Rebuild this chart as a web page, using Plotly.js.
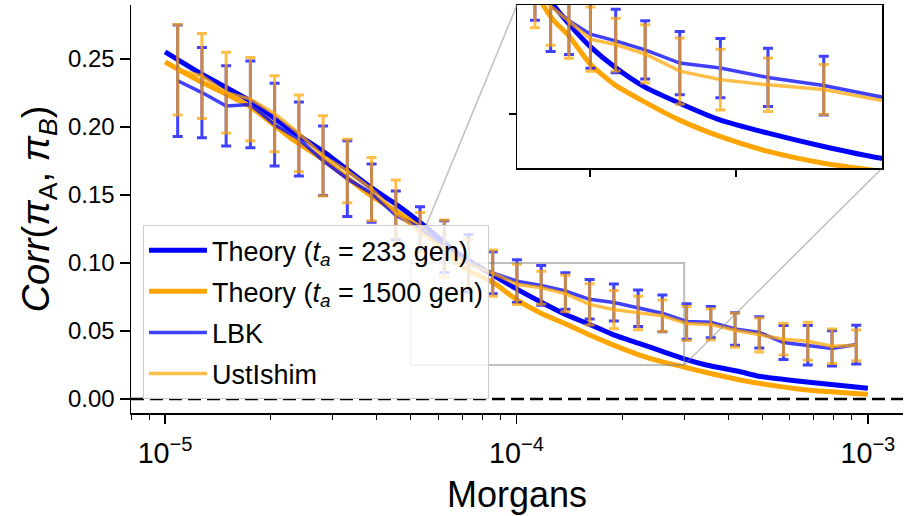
<!DOCTYPE html>
<html>
<head>
<meta charset="utf-8">
<script src="https://cdn.plot.ly/plotly-3.0.1.min.js"></script>
<style>html,body{margin:0;padding:0;background:#fff;}#chart{width:904px;height:516px;}</style>
</head>
<body>
<div id="chart"></div>
<script>
// Bin centres (Morgans)
const binX = [1.086e-5, 1.273e-5, 1.492e-5, 1.749e-5, 2.050e-5, 2.403e-5, 2.816e-5, 3.301e-5, 3.869e-5, 4.535e-5,
  5.315e-5, 6.230e-5, 7.302e-5, 8.559e-5, 1.003e-4, 1.176e-4, 1.378e-4, 1.615e-4, 1.893e-4, 2.219e-4,
  2.601e-4, 3.049e-4, 3.573e-4, 4.189e-4, 4.909e-4, 5.754e-4, 6.745e-4, 7.905e-4, 9.266e-4];
const lbkY = [0.234, 0.2253, 0.2155, 0.2166, 0.2017, 0.1911, 0.1752, 0.162, 0.1513, 0.135,
  0.1257, 0.112, 0.0998, 0.0928, 0.0866, 0.0835, 0.0794, 0.0733, 0.0710, 0.0667,
  0.0630, 0.0570, 0.0565, 0.0515, 0.049, 0.0415, 0.0395, 0.0372, 0.0400];
const lbkErr = [0.041, 0.0332, 0.0295, 0.0319, 0.0304, 0.0272, 0.0255, 0.0278, 0.0214, 0.018,
  0.0156, 0.019, 0.0212, 0.0155, 0.0157, 0.0146, 0.0134, 0.0145, 0.0136, 0.0134,
  0.0135, 0.013, 0.0115, 0.012, 0.0115, 0.0125, 0.0145, 0.013, 0.0143];
const ustY = [0.2421, 0.2375, 0.2252, 0.2205, 0.2097, 0.1953, 0.1787, 0.1676, 0.1543, 0.137,
  0.1225, 0.1106, 0.0995, 0.0925, 0.0843, 0.0818, 0.0775, 0.0696, 0.0657, 0.0633,
  0.0612, 0.0555, 0.0548, 0.0505, 0.047, 0.0440, 0.0425, 0.0388, 0.0395];
const ustErr = [0.0333, 0.0312, 0.0297, 0.0306, 0.0279, 0.0282, 0.0295, 0.0233, 0.0233, 0.024,
  0.0147, 0.021, 0.018, 0.017, 0.0148, 0.0121, 0.0134, 0.0152, 0.0140, 0.0123,
  0.0115, 0.0125, 0.0115, 0.0125, 0.0125, 0.0117, 0.014, 0.0127, 0.0113];
// Theory curves
const thX = [1e-5, 1.27e-5, 1.75e-5, 2.3e-5, 2.82e-5, 3.83e-5, 4.67e-5, 5.43e-5, 6.8e-5, 7.5e-5, 8.6e-5, 1e-4,
  1.17e-4, 1.37e-4, 1.61e-4, 1.89e-4, 2.22e-4, 2.6e-4, 3e-4, 3.47e-4, 4.33e-4, 4.9e-4, 6.6e-4, 1e-3];
const th233 = [0.2553, 0.239, 0.219, 0.197, 0.182, 0.156, 0.141, 0.128, 0.107, 0.100, 0.091, 0.081,
  0.0715, 0.0625, 0.055, 0.0472, 0.0411, 0.035, 0.0295, 0.025, 0.020, 0.0167, 0.0127, 0.0079];
const th1500 = [0.2478, 0.233, 0.2148, 0.191, 0.176, 0.150, 0.136, 0.124, 0.100, 0.093, 0.0855, 0.073,
  0.0633, 0.0556, 0.0472, 0.0396, 0.0327, 0.0273, 0.0235, 0.0195, 0.014, 0.0115, 0.0068, 0.0035];
const names = ['Theory (<i>t<sub>a</sub></i> = 233 gen)', 'Theory (<i>t<sub>a</sub></i> = 1500 gen)', 'LBK', 'UstIshim'];
const zoomX = [5e-5, 3e-4];
const zoomY = [0.025, 0.10];
const insetXTicks = [1e-4, 2e-4];
const insetYTicks = [0.05];

const BLUE = 'rgb(0,0,255)', ORANGE = 'rgb(255,165,0)';
const BLUE_A = 'rgba(0,0,255,0.75)', ORANGE_A = 'rgba(255,165,0,0.72)';

function traces(xa, ya, legend) {
  return [
    {x: thX, y: th233, mode: 'lines', line: {color: BLUE, width: 5, shape: 'spline', smoothing: 0.6}, name: names[0], legendgroup: 'a', showlegend: legend, xaxis: xa, yaxis: ya},
    {x: thX, y: th1500, mode: 'lines', line: {color: ORANGE, width: 5, shape: 'spline', smoothing: 0.6}, name: names[1], legendgroup: 'b', showlegend: legend, xaxis: xa, yaxis: ya},
    {x: binX, y: lbkY, mode: 'lines', line: {color: BLUE_A, width: 3.5}, name: names[2], legendgroup: 'c', showlegend: legend, xaxis: xa, yaxis: ya,
      error_y: {type: 'data', array: lbkErr, visible: true, color: BLUE_A, thickness: 3, width: 5}},
    {x: binX, y: ustY, mode: 'lines', line: {color: ORANGE_A, width: 3.5}, name: names[3], legendgroup: 'd', showlegend: legend, xaxis: xa, yaxis: ya,
      error_y: {type: 'data', array: ustErr, visible: true, color: ORANGE_A, thickness: 3, width: 5}}
  ];
}

const xr = [-5.097, -2.9], yr = [-0.0103, 0.2897];
const insetDomX = [0.5, 0.9728], insetDomY = [0.6, 1.0];
// inset corners expressed in main-axis data coordinates
const insetLeftX = Math.pow(10, xr[0] + insetDomX[0] * (xr[1] - xr[0]));
const insetRightX = Math.pow(10, xr[0] + insetDomX[1] * (xr[1] - xr[0]));
const insetTopY = yr[0] + insetDomY[1] * (yr[1] - yr[0]);
const insetBotY = yr[0] + insetDomY[0] * (yr[1] - yr[0]);

const GREY = 'rgba(128,128,128,0.5)';
const layout = {
  width: 904, height: 516,
  margin: {l: 131, r: 1, t: 5, b: 103},
  paper_bgcolor: '#fff', plot_bgcolor: 'rgba(0,0,0,0)',
  font: {family: 'Liberation Sans, Arial, sans-serif', color: '#000', size: 24},
  showlegend: true,
  legend: {x: 0.0155, y: 0.034, xanchor: 'left', yanchor: 'bottom', bgcolor: 'rgba(255,255,255,0.8)',
    bordercolor: '#cccccc', borderwidth: 1, font: {size: 27}, traceorder: 'grouped', tracegroupgap: 3, itemwidth: 58},
  xaxis: {type: 'log', range: xr, domain: [0, 1], anchor: 'y', showline: true, linecolor: '#000', linewidth: 1.5,
    ticks: 'outside', ticklen: 9, tickwidth: 1.5, tickcolor: '#000', tickmode: 'linear', tick0: 0, dtick: 1,
    exponentformat: 'power', showexponent: 'all',
    tickfont: {size: 23}, ticklabelstandoff: 6, showgrid: false, zeroline: false,
    minor: {ticks: 'outside', ticklen: 5, tickwidth: 1, tickcolor: '#000', dtick: 'D1', showgrid: false},
    title: {text: 'Morgans', font: {size: 36}, standoff: 14}},
  yaxis: {range: yr, domain: [0, 1], anchor: 'x', showline: true, linecolor: '#000', linewidth: 1.5,
    ticks: 'outside', ticklen: 10, tickwidth: 1.5, tickcolor: '#000', tick0: 0, dtick: 0.05, tickformat: '.2f',
    tickfont: {size: 24}, showgrid: false, zeroline: false,
    title: {text: '<i>Corr</i>(<i>π</i><sub>A</sub>, <i>π<sub>B</sub></i>)', font: {size: 38}, standoff: 6}},
  xaxis2: {range: zoomX, domain: insetDomX, anchor: 'y2', showline: true, mirror: true, linecolor: '#000', linewidth: 1.5,
    ticks: 'outside', ticklen: 7, tickwidth: 1.5, tickcolor: '#000', tickmode: 'array', tickvals: insetXTicks,
    showticklabels: false, showgrid: false, zeroline: false},
  yaxis2: {range: zoomY, domain: insetDomY, anchor: 'x2', showline: true, mirror: true, linecolor: '#000', linewidth: 1.5,
    ticks: 'outside', ticklen: 7, tickwidth: 1.5, tickcolor: '#000', tickmode: 'array', tickvals: insetYTicks,
    showticklabels: false, showgrid: false, zeroline: false},
  shapes: [
    {type: 'line', xref: 'paper', yref: 'y', x0: 0, x1: 1, y0: 0, y1: 0, layer: 'below',
      line: {color: '#000', width: 2.5, dash: '13px,6px'}},
    {type: 'rect', xref: 'x', yref: 'y', x0: zoomX[0], x1: zoomX[1], y0: zoomY[0], y1: zoomY[1], layer: 'above',
      line: {color: GREY, width: 2}, fillcolor: 'rgba(0,0,0,0)'},
    {type: 'line', xref: 'x', yref: 'y', x0: zoomX[0], y0: zoomY[1], x1: insetLeftX, y1: insetTopY, layer: 'above',
      line: {color: GREY, width: 1.5}},
    {type: 'line', xref: 'x', yref: 'y', x0: zoomX[1], y0: zoomY[0], x1: insetRightX, y1: insetBotY, layer: 'above',
      line: {color: GREY, width: 1.5}}
  ]
};

const data = traces('x', 'y', true).concat(traces('x2', 'y2', false));
Plotly.newPlot('chart', data, layout, {staticPlot: true, displayModeBar: false});
</script>
</body>
</html>
